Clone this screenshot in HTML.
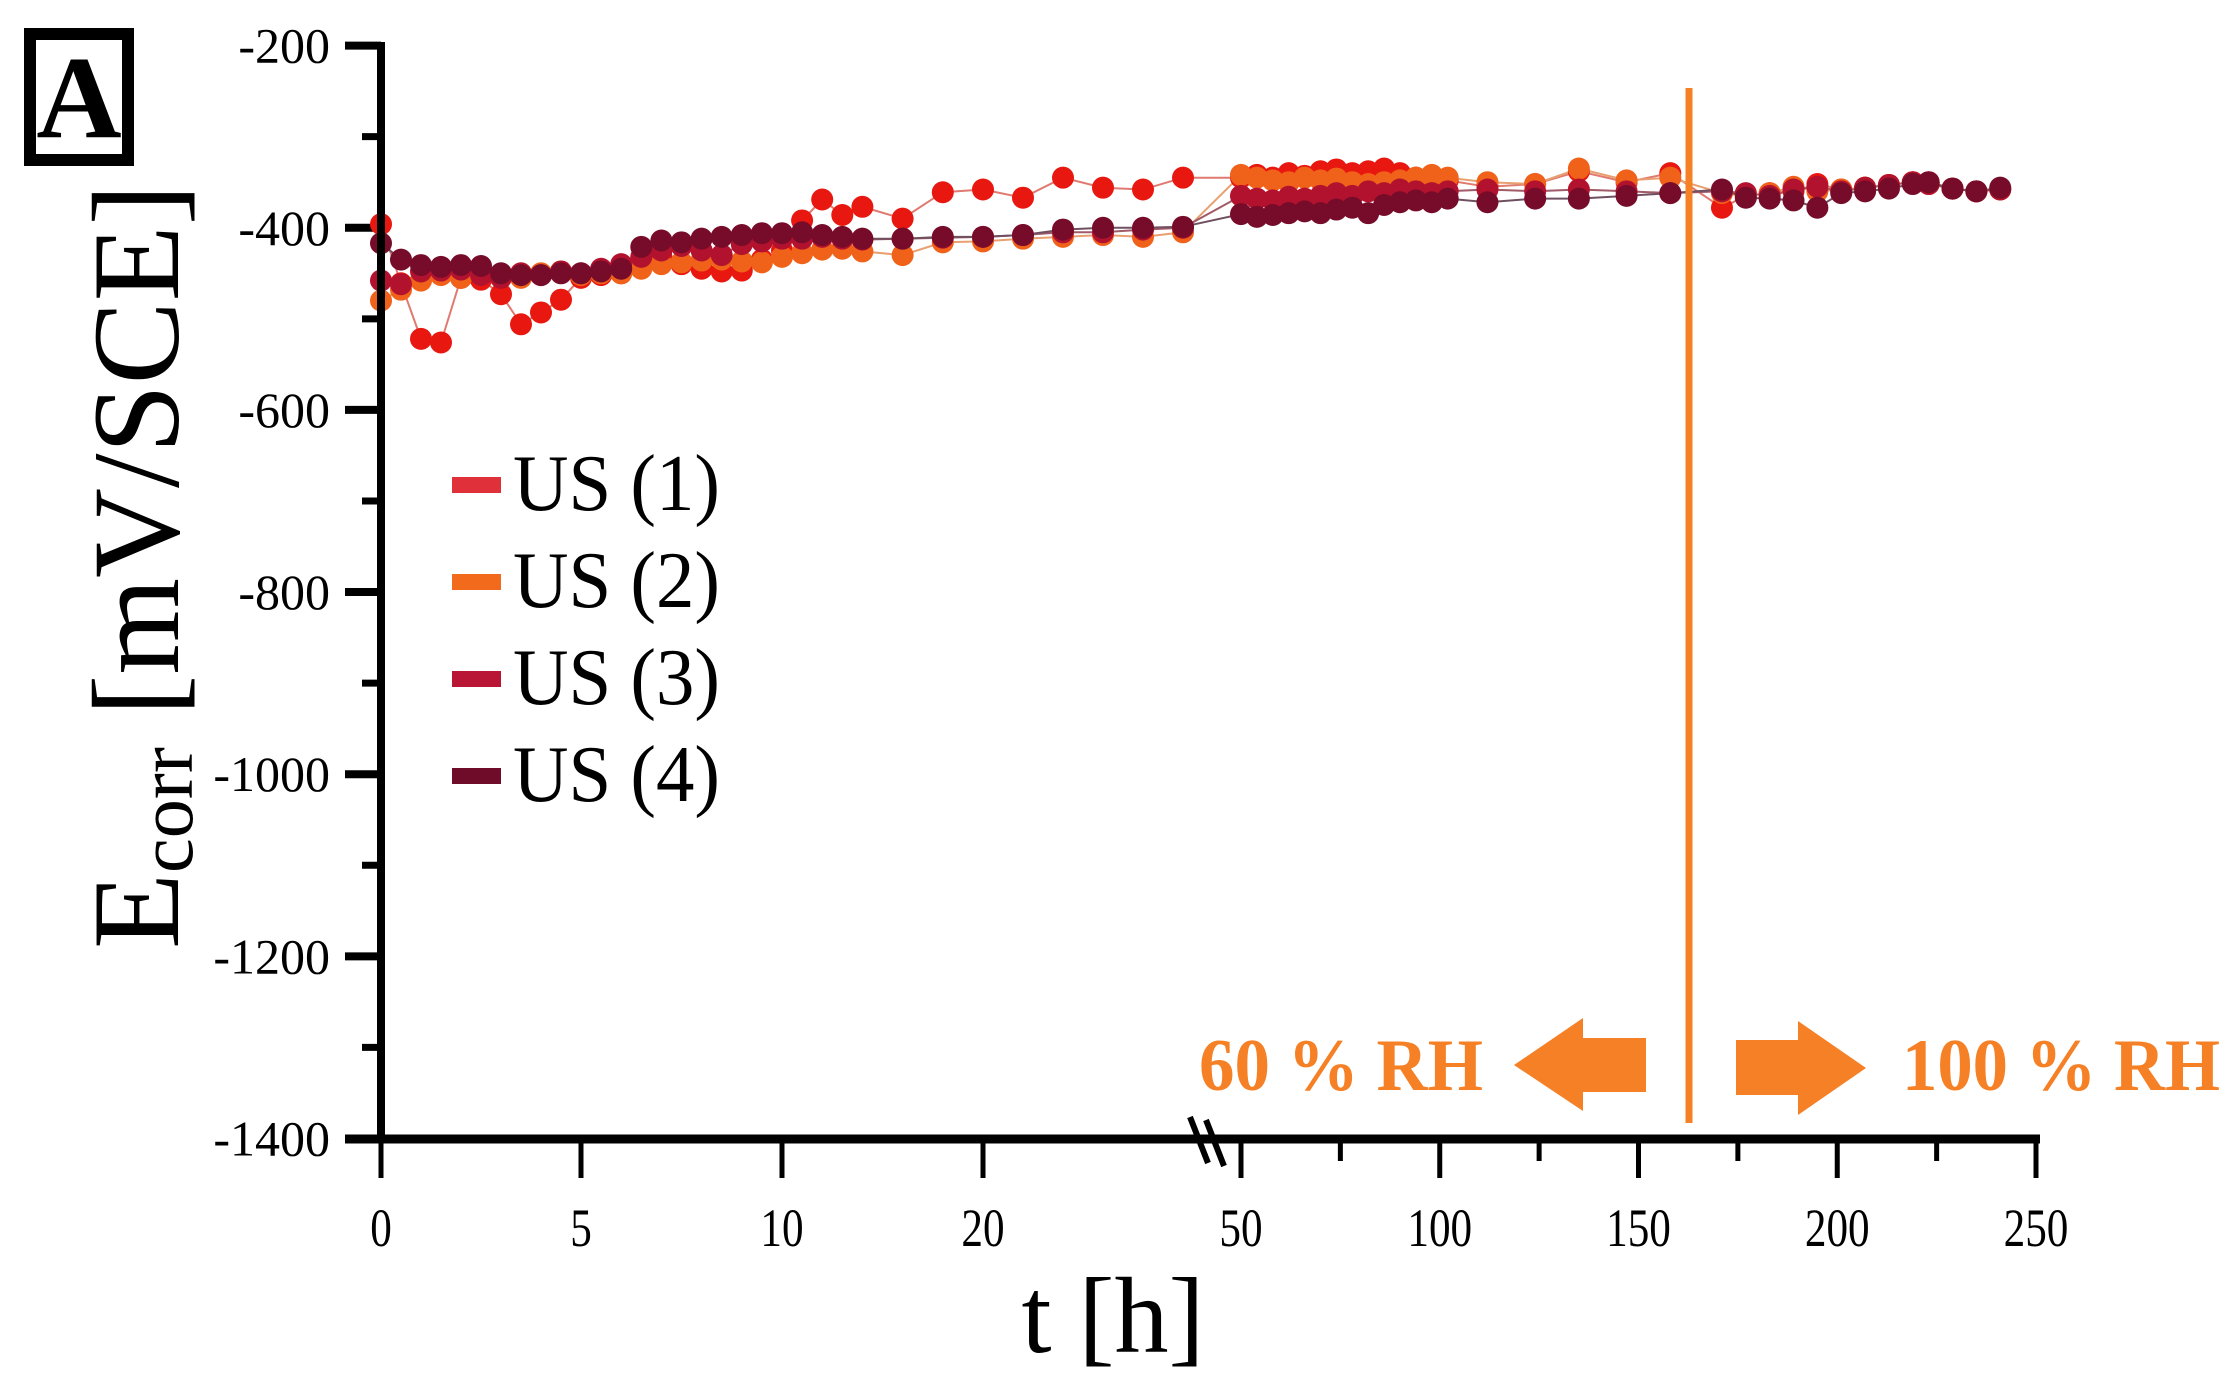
<!DOCTYPE html>
<html><head><meta charset="utf-8"><style>
html,body{margin:0;padding:0;background:#fff;}
svg{display:block;font-family:"Liberation Serif",serif;}
</style></head><body>
<svg id="chart" width="2237" height="1394" viewBox="0 0 2237 1394" xmlns="http://www.w3.org/2000/svg">
<rect x="30" y="34" width="98" height="126" fill="#fff" stroke="#000" stroke-width="12"/>
<text x="79" y="137" font-size="118" font-weight="bold" text-anchor="middle">A</text>
<g id="ticks"></g>
<g id="series"></g>
<line x1="381" y1="42" x2="381" y2="1143" stroke="#000" stroke-width="8"/>
<line x1="345" y1="1139" x2="2040" y2="1139" stroke="#000" stroke-width="9"/>
<g stroke="#000" stroke-width="6">
<line x1="1190" y1="1117" x2="1208" y2="1163"/><line x1="1206" y1="1120" x2="1224" y2="1166"/>
</g>
<text transform="translate(178,949) rotate(-90)" font-size="124" textLength="765" lengthAdjust="spacingAndGlyphs">E<tspan font-size="78" dy="14">corr</tspan><tspan dy="-14"> [mV/SCE]</tspan></text>
<text x="1113" y="1352" font-size="108" text-anchor="middle">t [h]</text>
<line x1="1689" y1="88" x2="1689" y2="1123" stroke="#f58025" stroke-width="7"/>
<polygon points="1514,1065 1583,1018 1583,1038 1646,1038 1646,1092 1583,1092 1583,1111" fill="#f58025"/>
<polygon points="1866,1068 1798,1021 1798,1040 1736,1040 1736,1095 1798,1095 1798,1115" fill="#f58025"/>
<text x="1199" y="1090" font-size="74" font-weight="bold" fill="#f58025" textLength="284" lengthAdjust="spacingAndGlyphs">60 % RH</text>
<text x="1902" y="1090" font-size="74" font-weight="bold" fill="#f58025" textLength="318" lengthAdjust="spacingAndGlyphs">100 % RH</text>
<g id="legend"></g>
</svg>
<script>
const times=[0,0.5,1,1.5,2,2.5,3,3.5,4,4.5,5,5.5,6,6.5,7,7.5,8,8.5,9,9.5,10,11,12,13,14,16,18,20,22,24,26,28,30,50,54,58,62,66,70,74,78,82,86,90,94,98,102,112,124,135,147,158,171,177,183,189,195,201,207,213,219,223,229,235,241];
const us1=[-396,-461,-522,-526,-455,-457,-473,-506,-493,-479,-455,-452,-450,-440,-432,-440,-445,-448,-447,-435,-425,-392,-369,-386,-377,-390,-361,-358,-367,-345,-356,-358,-345,-345,-342,-345,-340,-343,-338,-336,-340,-338,-335,-340,-345,-350,-348,-355,-352,-338,-350,-340,-378,-365,-362,-360,-352,-358,-356,-353,-350,-350,-357,-360,-358];
const us2=[-480,-468,-458,-452,-455,-450,-452,-455,-450,-448,-452,-450,-450,-445,-440,-438,-436,-435,-437,-438,-432,-428,-424,-423,-426,-430,-416,-415,-412,-410,-408,-410,-405,-342,-345,-348,-350,-345,-348,-346,-350,-352,-350,-348,-345,-342,-345,-350,-352,-335,-348,-345,-362,-365,-362,-355,-360,-358,-356,-353,-350,-352,-357,-360,-358];
const us3=[-458,-462,-448,-447,-446,-452,-455,-450,-452,-448,-450,-445,-440,-432,-425,-420,-425,-430,-418,-415,-412,-412,-410,-412,-413,-412,-411,-410,-408,-405,-405,-402,-400,-365,-368,-370,-366,-368,-365,-362,-365,-360,-362,-358,-360,-362,-360,-358,-360,-358,-360,-362,-360,-362,-365,-358,-355,-360,-356,-353,-350,-352,-357,-360,-358];
const us4=[-417,-435,-441,-443,-441,-442,-450,-452,-452,-450,-450,-448,-445,-421,-414,-416,-412,-410,-408,-406,-406,-405,-408,-410,-412,-412,-410,-410,-408,-402,-400,-400,-399,-385,-388,-386,-384,-382,-384,-380,-378,-384,-375,-372,-370,-372,-368,-372,-368,-368,-365,-362,-358,-367,-368,-370,-378,-362,-360,-357,-352,-350,-357,-360,-356];
const seriesNames=["US (1)","US (2)","US (3)","US (4)"];
const seriesColors=["#e8170f","#f0621a","#b3122e","#760c2a"];
const lineColors=["#e07a70","#e8a070","#a05a68","#705060"];
const legendColors=["#e0303a","#f26a1b","#b81634","#6e0c2a"];
const yTicks=[-200,-400,-600,-800,-1000,-1200,-1400];
const yMinorTicks=[-300,-500,-700,-900,-1100,-1300];
const xTicks=[0,5,10,20,50,100,150,200,250];
const xTickLabels=["0","5","10","20","50","100","150","200","250"];
const xMinorTicks=[75,125,175,225];
const xDomain=[0,5,10,20,30,50,250];
const xRange=[381,581,782,983,1183,1241,2036];
function xs(t){for(let i=0;i<xDomain.length-1;i++){if(t<=xDomain[i+1]||i===xDomain.length-2){return xRange[i]+(t-xDomain[i])/(xDomain[i+1]-xDomain[i])*(xRange[i+1]-xRange[i]);}}}
function ys(v){return 45.6+(-200-v)/1200*(1138.5-45.6);}
const NS="http://www.w3.org/2000/svg";
function mk(tag,attrs,parent){const e=document.createElementNS(NS,tag);for(const k in attrs)e.setAttribute(k,attrs[k]);parent.appendChild(e);return e;}
const tg=document.getElementById('ticks');
yTicks.forEach(v=>{
 const l=mk('line',{x1:345,x2:381,y1:ys(v),y2:ys(v),stroke:'#000','stroke-width':8},tg);
 
 
 const t=mk('text',{x:330,y:ys(v)+17,'font-size':50,'text-anchor':'end'},tg);
 t.textContent='-'+Math.abs(v);
 
 
});
yMinorTicks.forEach(v=>{
 const l=mk('line',{x1:362,x2:381,y1:ys(v),y2:ys(v),stroke:'#000','stroke-width':7},tg);
 
 
});
xTicks.forEach((v,i)=>{
 const l=mk('line',{x1:xs(v),x2:xs(v),y1:1139,y2:1178,stroke:'#000','stroke-width':5},tg);
 
 
 const t=mk('text',{x:xs(v),y:1246,'font-size':54,'text-anchor':'middle',transform:'translate('+xs(v)+',0) scale(0.8,1) translate('+(-xs(v))+',0)'},tg);
 t.textContent=xTickLabels[i];
 
 
});
xMinorTicks.forEach(v=>{
 const l=mk('line',{x1:xs(v),x2:xs(v),y1:1139,y2:1161,stroke:'#000','stroke-width':5},tg);
 
 
});
const sg=document.getElementById('series');
const allData=[us1,us2,us3,us4];
allData.forEach((vals,si)=>{
 const g=mk('g',{},sg);
 
 
 const pts=vals.map((v,i)=>xs(times[i]).toFixed(1)+','+ys(v).toFixed(1)).join(' ');
 const pl=mk('polyline',{points:pts,fill:'none',stroke:lineColors[si],'stroke-width':2},g);
 
 
});
allData.forEach((vals,si)=>{
 const g=mk('g',{},sg);
 
 
 vals.forEach((v,i)=>{
  const c=mk('circle',{cx:xs(times[i]),cy:ys(v),r:11,fill:seriesColors[si]},g);
  
  
 });
});
const lg=document.getElementById('legend');


seriesNames.forEach((n,i)=>{
 const y0=485+i*97;
 const r=mk('rect',{x:452,y:y0-8,width:49,height:16,fill:legendColors[i]},lg);
 
 
 const t=mk('text',{x:513,y:y0+25,'font-size':80,textLength:207,lengthAdjust:'spacingAndGlyphs'},lg);
 t.textContent=n;
 
 
});
</script>
</body></html>
